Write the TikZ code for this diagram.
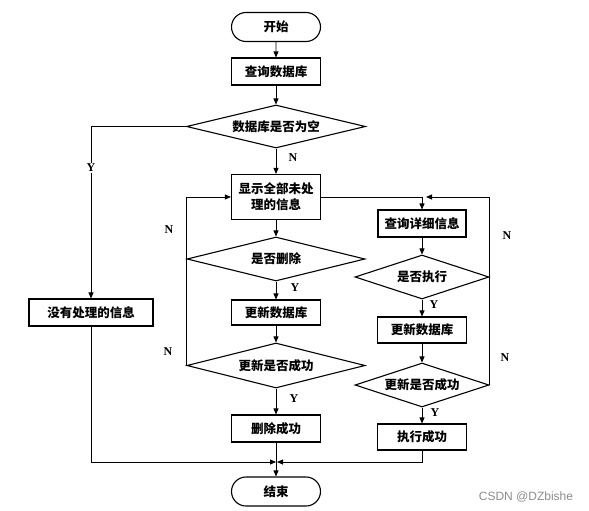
\documentclass[tikz,border=0pt]{standalone}
\usepackage{fontspec}
\setmainfont{Liberation Serif}
\newfontfamily\cjk{Noto Sans CJK SC}
\newfontfamily\wmfont{Liberation Sans}
\usetikzlibrary{shapes.geometric,shapes.misc,arrows.meta}
\begin{document}
\begin{tikzpicture}[x=1pt,y=-1pt,
  cjkfont/.style={font=\cjk\bfseries\fontsize{12.5}{16}\selectfont},
  box/.style={draw,line width=1.1pt,rectangle,inner sep=0pt,minimum width=89pt,minimum height=27pt,cjkfont,align=center},
  term/.style={box,rounded rectangle,minimum height=29pt},
  dec/.style={draw,line width=1.1pt,diamond,inner sep=0pt,cjkfont},
  arr/.style={line width=0.8pt,-{Triangle[length=6pt,width=5pt]}},
  lbl/.style={font=\bfseries\fontsize{12}{14}\selectfont,inner sep=1pt}
]
\useasboundingbox (0,0) rectangle (589,511);

% main column
\node[term] (start) at (276,27) {开始};
\node[box] (q1) at (276,71.5) {查询数据库};
\node[dec,shape aspect=4.16,minimum width=179pt,minimum height=43pt] (d1) at (276,126.5) {数据库是否为空};
\node[box,minimum height=45pt] (show) at (276,197) {显示全部未处\\理的信息};
\node[dec,shape aspect=4.05,minimum width=178pt,minimum height=44pt] (d2) at (276,259) {是否删除};
\node[box,minimum height=25pt] (up1) at (276,312.5) {更新数据库};
\node[dec,shape aspect=3.96,minimum width=178pt,minimum height=45pt] (d3) at (276,365.5) {更新是否成功};
\node[box] (del) at (276,428.5) {删除成功};
\node[term] (end) at (276,491.5) {结束};

% left column
\node[box,minimum width=124pt] (none) at (91,312.5) {没有处理的信息};

% right column
\node[box,minimum width=88pt] (q2) at (422,223.5) {查询详细信息};
\node[dec,shape aspect=3.05,minimum width=134pt,minimum height=44pt] (d4) at (422,277) {是否执行};
\node[box,minimum height=26pt] (up2) at (422,330) {更新数据库};
\node[dec,shape aspect=3.05,minimum width=134pt,minimum height=44pt] (d5) at (422,385) {更新是否成功};
\node[box,minimum height=26pt] (exec) at (422,437) {执行成功};

% helper coordinates
\coordinate (m1) at (276,462);
\coordinate (m2) at (277,462);
\coordinate (c2) at (426,197);

% main flow
\draw[arr] (start) -- (q1);
\draw[arr] (q1) -- (d1);
\draw[arr] (d1) -- (show);
\draw[arr] (show) -- (d2);
\draw[arr] (d2) -- (up1);
\draw[arr] (up1) -- (d3);
\draw[arr] (d3) -- (del);
\draw[arr] (del) -- (end);

% Y branch to left
\draw[arr] (d1.west) -| (none.north);
\draw[arr] (none.south) |- (m1);

% left N loop
\draw[arr] (d3.west) |- (show.west);

% right column
\draw[arr] (show.east) -| (q2.north);
\draw[arr] (q2) -- (d4);
\draw[arr] (d4) -- (up2);
\draw[arr] (up2) -- (d5);
\draw[arr] (d5) -- (exec);
\draw[arr] (d5.east) |- (c2);
\draw[arr] (exec.south) |- (m2);

% labels
\node[lbl] (ln1) at (293,158) {N};
\node[lbl,fill=white] (ly1) at (91,168) {Y};
\node[lbl] (ly2) at (295,288) {Y};
\node[lbl] (ly3) at (294,399) {Y};
\node[lbl] (ln2) at (169,230) {N};
\node[lbl] (ln3) at (168,352) {N};
\node[lbl] (ly4) at (434,305) {Y};
\node[lbl] (ly5) at (435,413) {Y};
\node[lbl] (ln4) at (507,236) {N};
\node[lbl] (ln5) at (505,358) {N};

% watermark
\node[font=\wmfont\fontsize{12}{14}\selectfont,text=black!45,inner sep=0pt] (wm) at (526,497) {CSDN @DZbishe};
\end{tikzpicture}
\end{document}
